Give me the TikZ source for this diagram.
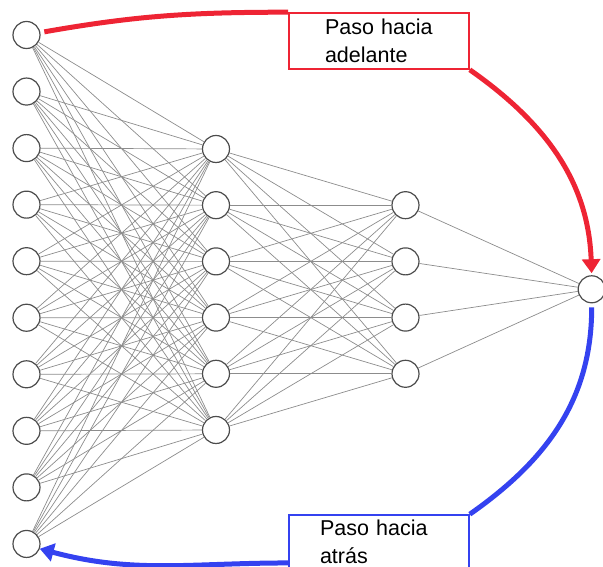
\documentclass[tikz,border=0pt]{standalone}
\usepackage{fontspec}
\setmainfont{Liberation Sans}
\usetikzlibrary{arrows.meta}
\definecolor{fwdred}{RGB}{238,36,52}
\definecolor{bwdblue}{RGB}{52,66,240}

\begin{document}
\begin{tikzpicture}[x=1pt, y=1pt,
    neuron/.style={circle, draw=black!70, line width=1.2pt, fill=white, minimum size=27pt, inner sep=0pt},
    weight/.style={black!45, line width=0.7pt},
    passbox/.style={draw, line width=1.6pt, fill=white, align=left, inner ysep=0pt, font=\fontsize{21.5}{27.8}\selectfont},
    pass/.style={line width=5pt, -{Triangle[length=14pt, width=18pt]}}]
    \useasboundingbox (0,0) rectangle (603,567);

    % Neurons
    \foreach \i in {1,...,10}
        \node[neuron] (in\i) at (26.5, {532-56.55*(\i-1)}) {};
    \foreach \j in {1,...,6}
        \node[neuron] (hid\j) at (216, {418-56.2*(\j-1)}) {};
    \foreach \k in {1,...,4}
        \node[neuron] (sec\k) at (405.5, {361.8-56.2*(\k-1)}) {};
    \node[neuron] (out) at (591.7,277.7) {};

    % Weights
    \foreach \i in {1,...,10}
        \foreach \j in {1,...,6}
            \draw[weight] (in\i) -- (hid\j);
    \foreach \j in {1,...,6}
        \foreach \k in {1,...,4}
            \draw[weight] (hid\j) -- (sec\k);
    \foreach \k in {1,...,4}
        \draw[weight] (sec\k) -- (out);

    % Forward pass
    \node[passbox, draw=fwdred, minimum height=56pt, text width=108pt, inner xsep=36pt] (fwd) at (379,526) {Paso hacia\\adelante};
    \draw[fwdred, line width=5pt, shorten <=4pt] (in1.10) to[out=10, in=180] (fwd.north west);
    \draw[pass, fwdred, shorten >=2pt] (fwd.south east) to[out=-35, in=92] (out.north);

    % Backward pass
    \node[passbox, draw=bwdblue, minimum height=54pt, text width=118pt, inner xsep=31pt] (bwd) at (379,25) {Paso hacia\\atrás};
    \draw[bwdblue, line width=5pt, shorten <=4pt] (out.south) to[out=-90, in=35] (bwd.north east);
    \draw[pass, bwdblue] (bwd.193) to[out=180, in=-15] (in10.-20);
\end{tikzpicture}
\end{document}
